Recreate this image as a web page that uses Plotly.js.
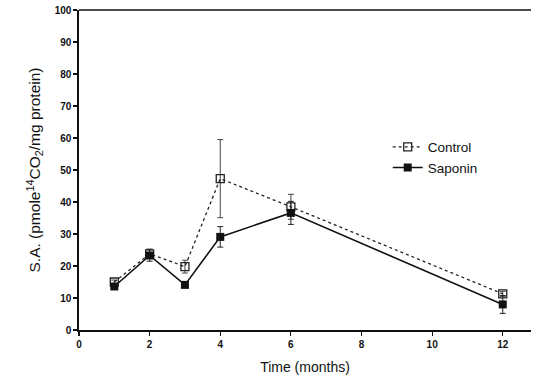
<!DOCTYPE html>
<html>
<head>
<meta charset="utf-8">
<script src="https://cdn.plot.ly/plotly-3.0.1.min.js"></script>
<style>
  html, body { margin: 0; padding: 0; background: #fff; }
  #chart { width: 535px; height: 391px; }
</style>
</head>
<body>
<div id="chart"></div>
<script>
// Time points (months)
const months = [1, 2, 3, 4, 6, 12];

// Specific activity, pmole 14CO2 / mg protein
const controlSA = [15, 23.8, 19.8, 47.3, 38.5, 11.3];
const controlErr = [0.6, 1.5, 2.0, 12.2, 3.9, 0.8];
const saponinSA = [13.6, 23.3, 14.1, 29.1, 36.6, 8.0];
const saponinErr = [0.6, 1.8, 0.6, 3.2, 3.6, 2.8];

const seriesNames = ['Control', 'Saponin'];
const xTicks = [0, 2, 4, 6, 8, 10, 12];
const yTicks = [0, 10, 20, 30, 40, 50, 60, 70, 80, 90, 100];

const font = 'Liberation Sans, Arial, sans-serif';

const traces = [
  {
    x: months, y: controlSA, name: seriesNames[0],
    type: 'scatter', mode: 'lines+markers',
    line: { color: '#222', width: 1.3, dash: 'dot' },
    marker: { symbol: 'square-open', size: 8, color: '#222', line: { width: 1.3 } },
    error_y: { type: 'data', array: controlErr, visible: true, color: '#444', thickness: 1, width: 3 }
  },
  {
    x: months, y: saponinSA, name: seriesNames[1],
    type: 'scatter', mode: 'lines+markers',
    line: { color: '#111', width: 1.6 },
    marker: { symbol: 'square', size: 8, color: '#111' },
    error_y: { type: 'data', array: saponinErr, visible: true, color: '#222', thickness: 1, width: 3 }
  }
];

const layout = {
  width: 535, height: 391,
  margin: { l: 79, r: 4, t: 10, b: 61 },
  paper_bgcolor: '#fff', plot_bgcolor: '#fff',
  font: { family: font, color: '#111' },
  showlegend: true,
  legend: {
    x: 0.683, y: 0.62, xanchor: 'left', yanchor: 'top',
    bgcolor: 'rgba(0,0,0,0)', font: { size: 13.5, family: font, color: '#111' },
    tracegroupgap: 0, itemwidth: 30
  },
  xaxis: {
    range: [0, 12.8], tickvals: xTicks, ticktext: xTicks.map(String),
    ticks: 'outside', ticklen: 4, tickwidth: 1.2, tickcolor: '#111',
    showgrid: false, zeroline: false,
    showline: true, linecolor: '#111', linewidth: 1.6, mirror: false,
    tickfont: { size: 10, family: font, color: '#111', weight: 'bold' },
    title: { text: 'Time (months)', font: { size: 14, family: font, color: '#111' }, standoff: 13 }
  },
  yaxis: {
    range: [0, 100], tickvals: yTicks, ticktext: yTicks.map(String),
    ticks: 'outside', ticklen: 4, tickwidth: 1.2, tickcolor: '#111',
    showgrid: false, zeroline: false,
    showline: true, linecolor: '#111', linewidth: 1.6,
    tickfont: { size: 10, family: font, color: '#111', weight: 'bold' },
    title: { text: 'S.A. (pmole<sup>14</sup>CO<sub>2</sub>/mg protein)', font: { size: 15.5, family: font, color: '#111' }, standoff: 10 }
  },
  shapes: [
    // top frame line
    { type: 'line', xref: 'paper', yref: 'paper', x0: 0, x1: 1, y0: 1, y1: 1, line: { color: '#111', width: 1.6 } }
  ]
};

Plotly.newPlot('chart', traces, layout, { displayModeBar: false, staticPlot: true });
</script>
</body>
</html>
